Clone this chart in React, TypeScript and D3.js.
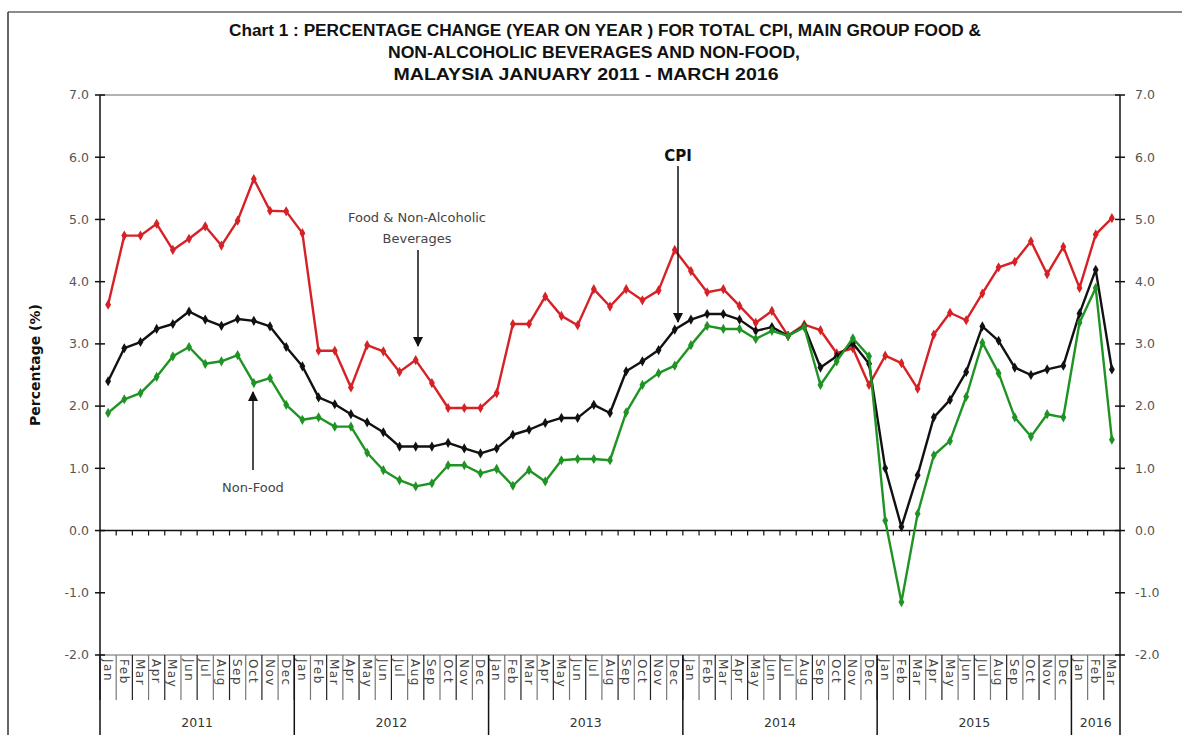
import React from "react";
import * as d3 from "d3";

const monthNames = ["Jan","Feb","Mar","Apr","May","Jun","Jul","Aug","Sep","Oct","Nov","Dec"];
const years = ["2011","2012","2013","2014","2015","2016"];
const monthsPerYear = [12,12,12,12,12,3];
const yTicks = [7,6,5,4,3,2,1,0,-1,-2];

const foodBev = [3.63,4.74,4.74,4.93,4.51,4.69,4.89,4.58,4.98,5.65,5.14,5.13,
 4.78,2.89,2.89,2.30,2.98,2.88,2.55,2.74,2.37,1.97,1.97,1.97,
 2.21,3.32,3.32,3.76,3.45,3.30,3.88,3.60,3.88,3.70,3.86,4.51,
 4.17,3.83,3.88,3.61,3.34,3.53,3.13,3.31,3.22,2.85,2.93,2.34,
 2.81,2.69,2.28,3.15,3.50,3.38,3.81,4.23,4.32,4.65,4.12,4.56,
 3.90,4.76,5.02];
const cpi = [2.40,2.93,3.03,3.24,3.32,3.52,3.39,3.29,3.40,3.37,3.28,2.95,
 2.64,2.14,2.03,1.87,1.74,1.58,1.35,1.35,1.35,1.41,1.32,1.24,
 1.32,1.54,1.62,1.73,1.81,1.81,2.02,1.89,2.56,2.72,2.90,3.23,
 3.39,3.48,3.48,3.39,3.21,3.27,3.13,3.28,2.62,2.80,3.01,2.68,
 1.00,0.06,0.89,1.82,2.10,2.55,3.28,3.05,2.62,2.50,2.59,2.65,
 3.49,4.19,2.59];
const nonFood = [1.89,2.11,2.21,2.47,2.80,2.95,2.68,2.72,2.82,2.37,2.45,2.02,
 1.78,1.82,1.67,1.67,1.25,0.97,0.81,0.71,0.76,1.05,1.05,0.92,
 0.99,0.72,0.97,0.79,1.13,1.15,1.15,1.13,1.90,2.34,2.53,2.65,
 2.98,3.29,3.24,3.24,3.08,3.21,3.13,3.27,2.34,2.72,3.09,2.80,
 0.16,-1.15,0.27,1.21,1.44,2.15,3.02,2.53,1.82,1.51,1.87,1.82,
 3.34,3.90,1.46];

const W = 1189, H = 735;
const L = 100, R = 1120, T = 95, B = 655;

export default function App() {
  const monthLabels: string[] = [];
  monthsPerYear.forEach((n) => { for (let i = 0; i < n; i++) monthLabels.push(monthNames[i]); });
  const idx = monthLabels.map((_, i) => i);
  const x = d3.scaleBand<number>().domain(idx).range([L, R]).padding(0);
  const bw = x.bandwidth();
  const cx = (i: number) => (x(i) as number) + bw / 2;
  const y = d3.scaleLinear().domain([-2, 7]).range([B, T]);
  const line = d3.line<number>().x((_, i) => cx(i)).y((d) => y(d));
  const diamond = d3.symbol().type(d3.symbolDiamond).size(30)() as string;

  const series = [
    { data: foodBev, color: "#d62126" },
    { data: cpi, color: "#111111" },
    { data: nonFood, color: "#1f9424" },
  ];

  const yearStarts: number[] = [];
  let acc = 0;
  monthsPerYear.forEach((n) => { yearStarts.push(acc); acc += n; });

  const tickFont = "'DejaVu Sans', sans-serif";
  const titleFont = "'Liberation Sans Narrow', 'Arial Narrow', 'Liberation Sans', sans-serif";

  return (
    <svg width={W} height={H} style={{ position: "absolute", left: 0, top: 0, background: "#fff" }}>
      <defs>
        <marker id="arr" viewBox="0 0 10 10" refX="9" refY="5" markerWidth="7" markerHeight="7" orient="auto-start-reverse">
          <path d="M0,0 L10,5 L0,10 z" fill="#111" />
        </marker>
      </defs>
      {/* outer frame */}
      <line x1={8} y1={12} x2={1182} y2={12} stroke="#666" strokeWidth={1.5} />
      <line x1={8} y1={12} x2={8} y2={H} stroke="#333" strokeWidth={1.5} />

      {/* title */}
      <g fontFamily={titleFont} fontWeight="bold" fontSize={16} fill="#111" textAnchor="middle">
        <text x={605} y={36} textLength={752} lengthAdjust="spacingAndGlyphs">Chart 1 : PERCENTAGE CHANGE (YEAR ON YEAR ) FOR TOTAL CPI, MAIN GROUP FOOD &amp;</text>
        <text x={594} y={58} textLength={412} lengthAdjust="spacingAndGlyphs">NON-ALCOHOLIC BEVERAGES AND NON-FOOD,</text>
        <text x={586} y={80} textLength={385} lengthAdjust="spacingAndGlyphs">MALAYSIA JANUARY  2011 - MARCH 2016</text>
      </g>

      {/* plot frame top / bottom */}
      <line x1={L} y1={T} x2={R} y2={T} stroke="#999" strokeWidth={1.5} />
      <line x1={L} y1={B} x2={R} y2={B} stroke="#999" strokeWidth={1.5} />

      {/* y axes */}
      <line x1={L} y1={T} x2={L} y2={B} stroke="#111" strokeWidth={1.5} />
      <line x1={R} y1={T} x2={R} y2={B} stroke="#111" strokeWidth={1.5} />
      {yTicks.map((t) => (
        <g key={t}>
          <line x1={L - 5} x2={L + 5} y1={y(t)} y2={y(t)} stroke="#111" strokeWidth={1.5} />
          <line x1={R - 5} x2={R + 5} y1={y(t)} y2={y(t)} stroke="#111" strokeWidth={1.5} />
          <text x={L - 11} y={y(t)} dy="0.35em" textAnchor="end" fontFamily={tickFont} fontSize={12.5} fill="#555">{t.toFixed(1)}</text>
          <text x={R + 15} y={y(t)} dy="0.35em" textAnchor="start" fontFamily={tickFont} fontSize={12.5} fill="#555">{t.toFixed(1)}</text>
        </g>
      ))}
      <text transform={`translate(40,${365}) rotate(-90)`} textAnchor="middle" fontFamily="'DejaVu Sans', sans-serif" fontWeight="bold" fontSize={14} fill="#111">Percentage (%)</text>

      {/* zero line with ticks */}
      <line x1={L} x2={R} y1={y(0)} y2={y(0)} stroke="#111" strokeWidth={1.5} />
      {idx.slice(1).map((i) => (
        <line key={i} x1={x(i) as number} x2={x(i) as number} y1={y(0)} y2={y(0) + 5} stroke="#111" strokeWidth={1.2} />
      ))}

      {/* category axis */}
      {idx.map((i) => (
        <g key={i}>
          <line x1={x(i) as number} x2={x(i) as number} y1={B} y2={700} stroke={i % 2 ? "#777" : "#222"} strokeWidth={1.2} />
          <text transform={`translate(${cx(i) - 4.5},${659}) rotate(90)`} fontFamily={tickFont} fontSize={12} letterSpacing={1.5} fill="#444" textAnchor="start">{monthLabels[i]}</text>
        </g>
      ))}
      {yearStarts.map((s, k) => (
        <g key={k}>
          <line x1={x(s) as number} x2={x(s) as number} y1={B} y2={H} stroke="#111" strokeWidth={1.5} />
          <text x={((x(s) as number) + (k < years.length - 1 ? (x(yearStarts[k + 1]) as number) : R)) / 2} y={727} textAnchor="middle" fontFamily={tickFont} fontSize={12.5} fill="#333">{years[k]}</text>
        </g>
      ))}
      <line x1={R} x2={R} y1={B} y2={H} stroke="#111" strokeWidth={1.5} />

      {/* series */}
      {series.map((s, k) => (
        <g key={k}>
          <path d={line(s.data) as string} fill="none" stroke={s.color} strokeWidth={2.4} strokeLinejoin="round" />
          {s.data.map((v, i) => (
            <path key={i} d={diamond} transform={`translate(${cx(i)},${y(v)})`} fill={s.color} />
          ))}
        </g>
      ))}

      {/* annotations */}
      <g fontFamily={tickFont} fontSize={13} fill="#444" textAnchor="middle">
        <text x={417} y={222}>Food &amp; Non-Alcoholic</text>
        <text x={417} y={243}>Beverages</text>
        <text x={253} y={492}>Non-Food</text>
      </g>
      <text x={678} y={161} textAnchor="middle" fontFamily="'DejaVu Sans', sans-serif" fontWeight="bold" fontSize={15} fill="#111">CPI</text>
      <line x1={418} y1={250} x2={418} y2={346} stroke="#111" strokeWidth={1.5} markerEnd="url(#arr)" />
      <line x1={678} y1={166} x2={678} y2={322} stroke="#111" strokeWidth={1.5} markerEnd="url(#arr)" />
      <line x1={253} y1={470} x2={253} y2={392} stroke="#111" strokeWidth={1.5} markerEnd="url(#arr)" />
    </svg>
  );
}
